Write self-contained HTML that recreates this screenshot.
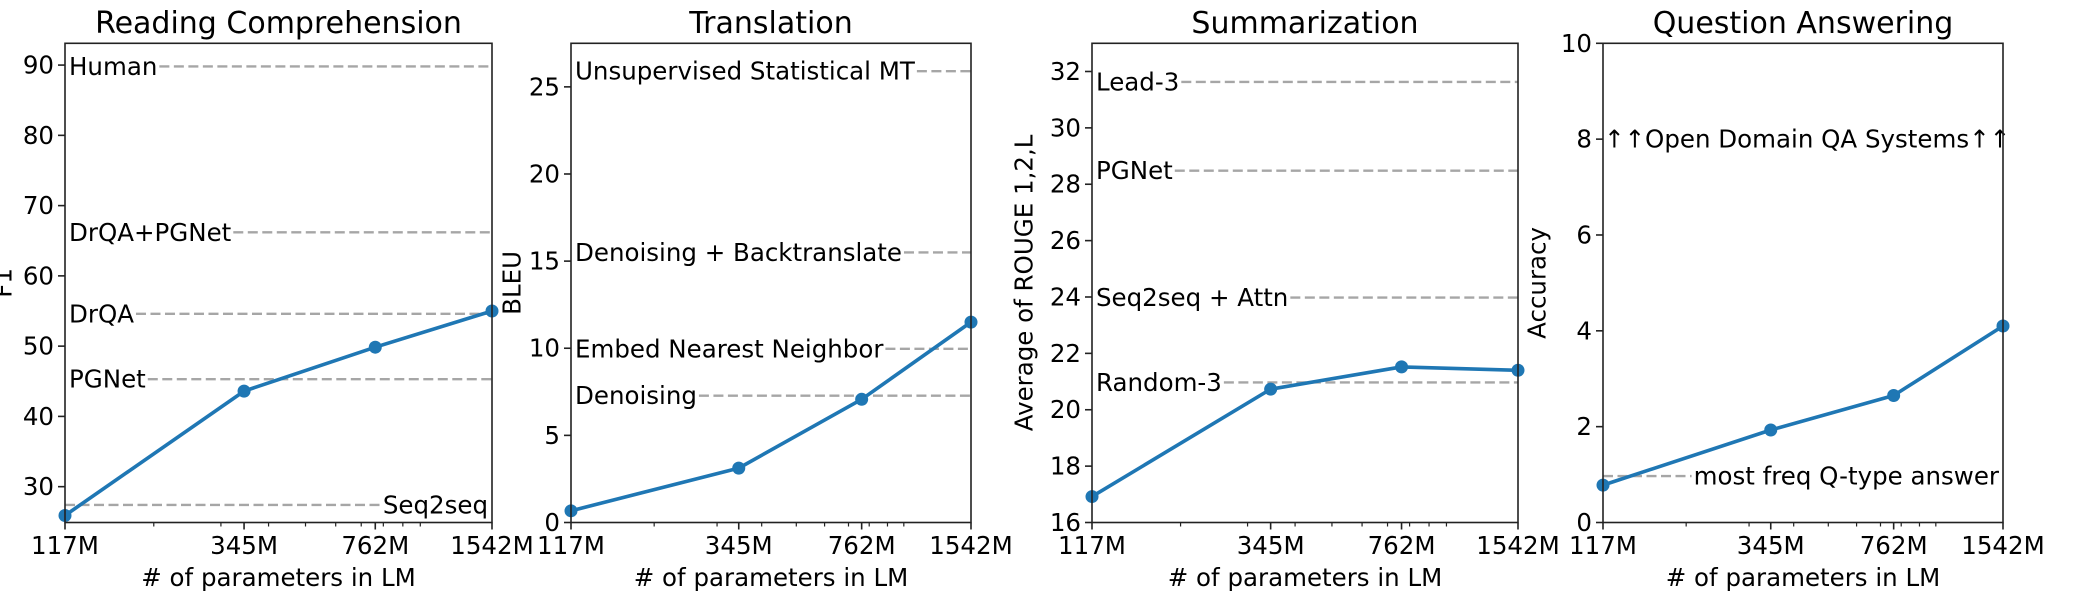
<!DOCTYPE html>
<html><head><meta charset="utf-8">
<style>
html,body{margin:0;padding:0;background:#fff;}
svg{display:block;font-family:"DejaVu Sans","Liberation Sans",sans-serif;}
</style></head>
<body>
<svg id="fig" width="2084" height="614" viewBox="0 0 2084 614" xmlns="http://www.w3.org/2000/svg"></svg>
<script>
// ---- data ----
const params = [117, 345, 762, 1542];
const xTickLabels = ["117M", "345M", "762M", "1542M"];
const minorTicks = [200, 300, 400, 500, 600, 700, 800, 900, 1000];

const rcValues = [25.9, 43.6, 49.85, 55.0];
const rcTicks = [30, 40, 50, 60, 70, 80, 90];
const rcBaselineNames = ["Human", "DrQA+PGNet", "DrQA", "PGNet", "Seq2seq"];
const rcBaselineValues = [89.8, 66.2, 54.6, 45.3, 27.4];

const trValues = [0.67, 3.12, 7.07, 11.5];
const trTicks = [0, 5, 10, 15, 20, 25];
const trBaselineNames = ["Unsupervised Statistical MT", "Denoising + Backtranslate", "Embed Nearest Neighbor", "Denoising"];
const trBaselineValues = [25.9, 15.5, 9.97, 7.28];

const suValues = [16.92, 20.73, 21.52, 21.40];
const suTicks = [16, 18, 20, 22, 24, 26, 28, 30, 32];
const suBaselineNames = ["Lead-3", "PGNet", "Seq2seq + Attn", "Random-3"];
const suBaselineValues = [31.63, 28.48, 23.98, 20.97];

const qaValues = [0.78, 1.93, 2.65, 4.1];
const qaTicks = [0, 2, 4, 6, 8, 10];
const qaBaselineNames = ["most freq Q-type answer"];
const qaBaselineValues = [0.97];

// ---- layout ----
const NS = "http://www.w3.org/2000/svg";
const svg = document.getElementById("fig");
const TOP = 43.3, BOT = 522.5;
const FS = 24.5;
const panels = [
  {key:"reading", title:"Reading Comprehension", ylabel:"F1", x0:65, x1:492, ymin:24.9, ymax:93.1, ticks:rcTicks, values:rcValues, bn:rcBaselineNames, bv:rcBaselineValues, rightLabel:{"Seq2seq":true}, ylabelX:3},
  {key:"translation", title:"Translation", ylabel:"BLEU", x0:571, x1:971, ymin:0, ymax:27.5, ticks:trTicks, values:trValues, bn:trBaselineNames, bv:trBaselineValues, rightLabel:{}, ylabelX:512},
  {key:"summarization", title:"Summarization", ylabel:"Average of ROUGE 1,2,L", x0:1092, x1:1518, ymin:16, ymax:33.0, ticks:suTicks, values:suValues, bn:suBaselineNames, bv:suBaselineValues, rightLabel:{}, ylabelX:1024},
  {key:"qa", title:"Question Answering", ylabel:"Accuracy", x0:1603, x1:2003, ymin:0, ymax:10, ticks:qaTicks, values:qaValues, bn:qaBaselineNames, bv:qaBaselineValues, rightLabel:{"most freq Q-type answer":true}, ylabelX:1537}
];

function mk(tag, attrs, parent){
  const e = document.createElementNS(NS, tag);
  for (const k in attrs) e.setAttribute(k, attrs[k]);
  (parent||svg).appendChild(e);
  return e;
}
function measure(txt){
  const t = mk("text", {x:0, y:-100, "font-size":FS});
  t.textContent = txt;
  const w = t.getComputedTextLength();
  svg.removeChild(t);
  return w;
}

panels.forEach(p => {
  const g = mk("g", {});
  
  
  const lmin = Math.log10(params[0]), lmax = Math.log10(params[params.length-1]);
  const xs = v => p.x0 + (Math.log10(v) - lmin) / (lmax - lmin) * (p.x1 - p.x0);
  const ys = v => BOT - (v - p.ymin) / (p.ymax - p.ymin) * (BOT - TOP);

  p.bn.forEach((name, i) => {
    const y = ys(p.bv[i]);
    const w = measure(name);
    const right = !!p.rightLabel[name];
    const lbl = mk("text", {x: right ? p.x1 - 4 : p.x0 + 4, y: y, "font-size":FS, "text-anchor": right ? "end" : "start", "dominant-baseline":"central", fill:"#000"}, g);
    lbl.textContent = name;
    
    
    const lx0 = right ? p.x0 : p.x0 + 4 + w + 2;
    const lx1 = right ? p.x1 - 4 - w - 2 : p.x1;
    const ln = mk("line", {x1:lx0, y1:y, x2:lx1, y2:y, stroke:"#a6a6a6", "stroke-width":2.4, "stroke-dasharray":"10,4.5"}, g);
    
    
  });

  if (p.key === "qa") {
    const t = mk("text", {x:p.x0 + 1, y:ys(8), "font-size":FS, "dominant-baseline":"central", fill:"#000"}, g);
    t.textContent = "\u2191\u2191Open Domain QA Systems\u2191\u2191";
    
    
  }

  const pts = p.values.map((v, i) => xs(params[i]).toFixed(2) + "," + ys(v).toFixed(2)).join(" ");
  const pl = mk("polyline", {points:pts, fill:"none", stroke:"#1f77b4", "stroke-width":3.6, "stroke-linejoin":"round"}, g);
  
  
  p.values.forEach((v, i) => {
    const c = mk("circle", {cx:xs(params[i]), cy:ys(v), r:6.5, fill:"#1f77b4"}, g);
    
    
  });

  const fr = mk("rect", {x:p.x0, y:TOP, width:p.x1 - p.x0, height:BOT - TOP, fill:"none", stroke:"#222", "stroke-width":1.6}, g);
  
  

  p.ticks.forEach(t => {
    const y = ys(t);
    mk("line", {x1:p.x0 - 7, y1:y, x2:p.x0, y2:y, stroke:"#222", "stroke-width":1.6}, g);
    const tl = mk("text", {x:p.x0 - 11, y:y, "font-size":FS, "text-anchor":"end", "dominant-baseline":"central", fill:"#000"}, g);
    tl.textContent = String(t);
    
    
  });
  params.forEach((v, i) => {
    const x = xs(v);
    mk("line", {x1:x, y1:BOT, x2:x, y2:BOT + 7, stroke:"#222", "stroke-width":1.6}, g);
    const tl = mk("text", {x:x, y:554, "font-size":FS, "text-anchor":"middle", fill:"#000"}, g);
    tl.textContent = xTickLabels[i];
    
    
  });
  minorTicks.forEach(v => {
    const x = xs(v);
    mk("line", {x1:x, y1:BOT, x2:x, y2:BOT + 4, stroke:"#222", "stroke-width":1.2}, g);
  });

  const xl = mk("text", {x:(p.x0 + p.x1) / 2, y:586, "font-size":FS, "text-anchor":"middle", fill:"#000"}, g);
  xl.textContent = "# of parameters in LM";
  
  
  const yc = (TOP + BOT) / 2;
  const yl = mk("text", {x:p.ylabelX, y:yc, "font-size":FS, "text-anchor":"middle", "dominant-baseline":"central", transform:"rotate(-90 " + p.ylabelX + " " + yc + ")", fill:"#000"}, g);
  yl.textContent = p.ylabel;
  
  
  const ti = mk("text", {x:(p.x0 + p.x1) / 2, y:33, "font-size":30, "text-anchor":"middle", fill:"#000"}, g);
  ti.textContent = p.title;
  
  
});
</script>
</body></html>
